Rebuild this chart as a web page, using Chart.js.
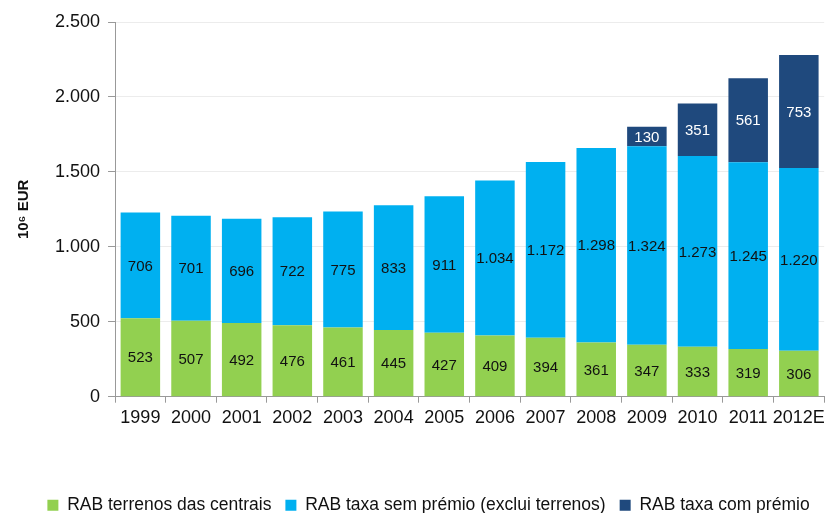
<!DOCTYPE html>
<html>
<head>
<meta charset="utf-8">
<script src="https://cdn.jsdelivr.net/npm/chart.js@4/dist/chart.umd.min.js"></script>
<style>
  html, body { margin: 0; padding: 0; background: #fff; }
  #wrap { width: 830px; height: 513px; }
</style>
</head>
<body>
<div id="wrap"><canvas id="myChart"></canvas></div>
<script>
var years = ["1999", "2000", "2001", "2002", "2003", "2004", "2005", "2006", "2007", "2008", "2009", "2010", "2011", "2012E"];
var terrenos = [523, 507, 492, 476, 461, 445, 427, 409, 394, 361, 347, 333, 319, 306];
var semPremio = [706, 701, 696, 722, 775, 833, 911, 1034, 1172, 1298, 1324, 1273, 1245, 1220];
var comPremio = [null, null, null, null, null, null, null, null, null, null, 130, 351, 561, 753];
var yTicks = [0, 500, 1000, 1500, 2000, 2500];

function fmt(v) {
  return String(v).replace(/\B(?=(\d{3})+(?!\d))/g, ".");
}

var ctx = document.getElementById('myChart');

// draw the numbers in the middle of each bar segment
var valueLabels = {
  id: 'valueLabels',
  afterDatasetsDraw: function(chart) {
    var c = chart.ctx;
    c.save();
    c.font = "15px 'Liberation Sans', Arial, sans-serif";
    c.textAlign = 'center';
    c.textBaseline = 'middle';
    chart.data.datasets.forEach(function(ds, i) {
      var meta = chart.getDatasetMeta(i);
      meta.data.forEach(function(bar, j) {
        var v = ds.data[j];
        if (v == null) return;
        c.fillStyle = ds.labelColor;
        c.fillText(fmt(v), bar.x, (bar.y + bar.base) / 2 + 1);
      });
    });
    c.restore();
  }
};

// push the legend a bit lower and to the right
var legendMove = {
  id: 'legendMove',
  afterLayout: function(chart) {
    chart.legend.top += 11;
    chart.legend.bottom += 11;
    chart.legend.left += 8;
    chart.legend.right += 8;
  }
};

var chartData = {
  labels: years,
  datasets: [
    {
      label: "RAB terrenos das centrais",
      backgroundColor: "#92D050",
      labelColor: "#111",
      data: terrenos
    },
    {
      label: "RAB taxa sem prémio (exclui terrenos)",
      backgroundColor: "#00B0F0",
      labelColor: "#111",
      data: semPremio
    },
    {
      label: "RAB taxa com prémio",
      backgroundColor: "#1F497D",
      labelColor: "#fff",
      data: comPremio
    }
  ]
};

var chartOptions = {
  responsive: true,
  maintainAspectRatio: false,
  animation: false,
  datasets: {
    bar: { categoryPercentage: 1, barPercentage: 0.78 }
  },
  layout: { padding: { top: 22, right: 4, left: 15, bottom: 0 } },
  plugins: {
    tooltip: { enabled: false },
    legend: {
      position: 'bottom',
      labels: {
        boxWidth: 11,
        boxHeight: 11,
        padding: 14,
        color: '#111',
        font: { family: "'Liberation Sans', Arial, sans-serif", size: 17.5 }
      }
    }
  },
  scales: {
    x: {
      stacked: true,
      border: { color: '#999' },
      grid: { drawOnChartArea: false, tickLength: 6, color: '#999' },
      ticks: {
        color: '#111',
        padding: 5,
        maxRotation: 0,
        autoSkip: false,
        font: { family: "'Liberation Sans', Arial, sans-serif", size: 18 }
      },
      title: { display: true, text: ' ', padding: { top: 18, bottom: 0 }, font: { size: 16 } }
    },
    y: {
      stacked: true,
      min: 0,
      max: 2500,
      afterBuildTicks: function(axis) {
        axis.ticks = yTicks.map(function(v) { return { value: v }; });
      },
      border: { color: '#999' },
      grid: { color: '#ececec', tickColor: '#999', tickLength: 7 },
      ticks: {
        color: '#111',
        padding: 8,
        font: { family: "'Liberation Sans', Arial, sans-serif", size: 18 },
        callback: function(v) { return fmt(v); }
      },
      title: {
        display: true,
        text: "10\u2076 EUR",
        color: '#111',
        padding: { top: 0, bottom: 14 },
        font: { family: "'Liberation Sans', Arial, sans-serif", size: 15, weight: 'bold' }
      }
    }
  }
};

var barChart = new Chart(ctx, {
  type: 'bar',
  data: chartData,
  options: chartOptions,
  plugins: [valueLabels, legendMove]
});
</script>
</body>
</html>
